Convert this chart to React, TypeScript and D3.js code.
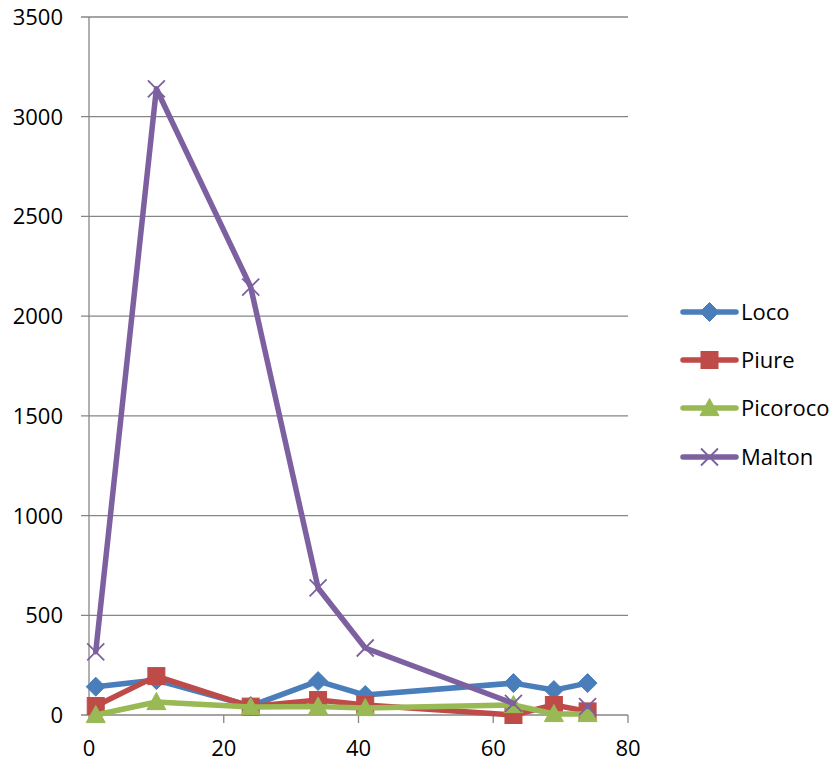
import React from "react";
import * as d3 from "d3";

const xValues = [1, 10, 24, 34, 41, 63, 69, 74];
const seriesNames = ["Loco", "Piure", "Picoroco", "Malton"];
const loco = [142, 175, 45, 170, 100, 160, 125, 160];
const piure = [45, 195, 42, 75, 50, 0, 50, 18];
const picoroco = [0, 65, 40, 42, 35, 50, 5, 5];
const malton: (number | null)[] = [317, 3140, 2146, 637, 336, 58, null, 42];
const xTicks = [0, 20, 40, 60, 80];
const yTicks = [0, 500, 1000, 1500, 2000, 2500, 3000, 3500];
const colors = ["#4A7EBB", "#BE4B48", "#98B954", "#7D60A0"];
const markers = ["diamond", "square", "triangle", "x"];

const W = 836;
const H = 762;
const FONT = "'Open Sans', 'Liberation Sans', sans-serif";

function Marker({ type, x, y, color }: { type: string; x: number; y: number; color: string }) {
  if (type === "diamond") {
    const r = 9.5;
    return <path d={`M${x},${y - r}L${x + r},${y}L${x},${y + r}L${x - r},${y}Z`} fill={color} stroke={color} strokeWidth={1} />;
  }
  if (type === "square") {
    const r = 8.5;
    return <rect x={x - r} y={y - r} width={2 * r} height={2 * r} fill={color} stroke={color} strokeWidth={1} />;
  }
  if (type === "triangle") {
    const r = 9.5;
    return <path d={`M${x},${y - r}L${x + r},${y + r * 0.8}L${x - r},${y + r * 0.8}Z`} fill={color} stroke={color} strokeWidth={1} />;
  }
  const r = 8.5;
  return (
    <path d={`M${x - r},${y - r}L${x + r},${y + r}M${x + r},${y - r}L${x - r},${y + r}`} stroke={color} strokeWidth={1.8} fill="none" />
  );
}

export default function App() {
  const x = d3.scaleLinear().domain([0, 80]).range([89, 628]);
  const y = d3.scaleLinear().domain([0, 3500]).range([715, 17]);
  const allSeries = [loco, piure, picoroco, malton];
  const line = d3
    .line<[number, number | null]>()
    .defined((d) => d[1] !== null)
    .x((d) => x(d[0]))
    .y((d) => y(d[1] as number));

  const legendY = [312, 360, 408, 457];

  return (
    <svg width={W} height={H} style={{ position: "absolute", left: 0, top: 0, background: "#fff" }} fontFamily={FONT}>
      <rect width={W} height={H} fill="#fff" />
      {yTicks.map((t) => (
        <g key={t}>
          <line x1={81} x2={628} y1={y(t)} y2={y(t)} stroke="#868686" strokeWidth={1.3} />
          <text x={63} y={y(t) + 8} textAnchor="end" fontSize={22} fill="#000">
            {t}
          </text>
        </g>
      ))}
      <line x1={89} x2={89} y1={y(3500)} y2={y(0)} stroke="#868686" strokeWidth={1.3} />
      {xTicks.map((t) => (
        <g key={t}>
          <line x1={x(t)} x2={x(t)} y1={715} y2={723} stroke="#868686" strokeWidth={1.3} />
          <text x={x(t)} y={756} textAnchor="middle" fontSize={22} fill="#000">
            {t}
          </text>
        </g>
      ))}
      {allSeries.map((s, i) => {
        const pts = xValues.map((xv, j) => [xv, s[j]] as [number, number | null]);
        return (
          <g key={seriesNames[i]}>
            <path d={line(pts) || ""} fill="none" stroke={colors[i]} strokeWidth={5.5} strokeLinejoin="round" strokeLinecap="round" />
            {pts
              .filter((p) => p[1] !== null)
              .map((p, j) => (
                <Marker key={j} type={markers[i]} x={x(p[0])} y={y(p[1] as number)} color={colors[i]} />
              ))}
          </g>
        );
      })}
      {seriesNames.map((n, i) => (
        <g key={n}>
          <line x1={683} x2={736} y1={legendY[i]} y2={legendY[i]} stroke={colors[i]} strokeWidth={5.5} strokeLinecap="round" />
          <Marker type={markers[i]} x={709.5} y={legendY[i]} color={colors[i]} />
          <text x={741} y={legendY[i] + 8} fontSize={22} fill="#000">
            {n}
          </text>
        </g>
      ))}
    </svg>
  );
}
